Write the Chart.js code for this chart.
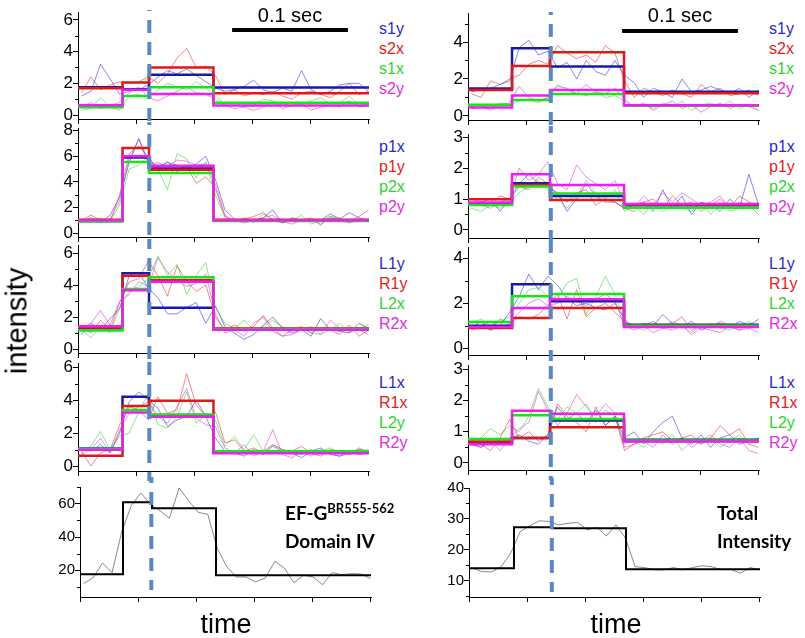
<!DOCTYPE html>
<html>
<head>
<meta charset="utf-8">
<script src="https://cdn.jsdelivr.net/npm/chart.js@4.4.0/dist/chart.umd.min.js"></script>
<style>
  body { margin: 0; background: #fff; }
  #wrap { position: relative; width: 805px; height: 638px; overflow: hidden; font-family: "Liberation Sans", Arial, sans-serif; }
  canvas { position: absolute; }
  .lab { position: absolute; white-space: nowrap; line-height: 1; }
  .note { font-family: Lato, "Open Sans", sans-serif; font-weight: bold; font-size: 19px; color: #000; }
</style>
</head>
<body>
<div id="wrap"></div>
<script>
// frame index of every sample (x axis has no labels, only "time")
const frames = Array.from({ length: 31 }, (_, i) => i);

// frames where the fitted steps change level
const leftEdges = [4.3, 7.07, 13.8];
const leftEdges5 = [4.14, 7.17, 13.86];
const rightEdges = [4.25, 8.22, 15.95];
const rightEdges5 = [4.35, 8.32, 16.05];
const leftMark = 7.1;
const rightMark = 8.3;
const scaleBarStart = 15.75;
const scaleBarFrames = 12.1; // = 0.1 sec

// ---- left column ----
const L1_names = ["s1y", "s2x", "s1x", "s2y"];
const L1_s1y = [1.2, 1.5, 3.2, 2.3, 1.3, 1.5, 1.6, 1.9, 2.4, 2.8, 2.6, 2.9, 2.5, 2.1, 1.7, 1.5, 1.6, 1.8, 2.2, 1.6, 1.4, 1.7, 1.5, 2.8, 1.6, 1.3, 1.5, 1.9, 2.0, 2.0, 1.5];
const L1_s2x = [1.4, 2.4, 1.6, 1.9, 2.1, 2.0, 2.1, 2.4, 2.0, 2.6, 3.6, 4.2, 3.0, 3.1, 2.5, 1.3, 1.6, 1.2, 1.4, 1.3, 1.5, 1.2, 1.0, 1.4, 1.5, 1.3, 1.1, 1.5, 2.0, 1.3, 1.5];
const L1_s1x = [0.3, 0.4, 1.1, 0.5, 0.3, 1.2, 1.3, 1.0, 1.6, 2.0, 1.8, 1.6, 2.1, 1.7, 1.2, 0.7, 0.8, 0.5, 0.6, 1.0, 0.9, 0.6, 0.8, 0.7, 0.9, 1.1, 0.7, 0.8, 1.2, 0.6, 0.7];
const L1_s2y = [0.5, 0.8, 0.4, 0.6, 0.8, 1.4, 1.8, 1.1, 0.9, 1.2, 1.5, 1.8, 1.4, 1.3, 1.0, 0.6, 0.4, 0.5, 0.3, 0.5, 0.8, 0.4, 0.6, 0.7, 0.3, 0.5, 0.6, 0.5, 0.9, 0.5, 0.6];
const L1_fits = [[1.76, 1.63, 2.54, 1.73], [1.69, 2.05, 3.0, 1.38], [0.49, 1.2, 1.76, 0.78], [0.62, 1.59, 1.33, 0.6]];

const L2_names = ["p1x", "p1y", "p2x", "p2y"];
const L2_p1x = [0.9, 1.2, 0.8, 1.4, 2.8, 5.5, 7.4, 5.6, 5.2, 5.5, 5.3, 5.0, 5.4, 6.0, 4.2, 1.8, 1.1, 1.0, 0.9, 1.2, 1.8, 0.8, 1.1, 1.0, 0.9, 1.0, 1.5, 1.1, 1.6, 1.2, 1.0];
const L2_p1y = [1.0, 1.4, 1.0, 0.9, 3.0, 6.2, 6.8, 5.9, 5.0, 5.6, 4.8, 5.2, 3.9, 4.4, 3.5, 1.3, 0.9, 1.1, 1.3, 1.6, 1.0, 0.8, 1.2, 1.0, 1.1, 0.7, 1.2, 1.0, 0.9, 1.3, 1.8];
const L2_p2x = [0.8, 1.0, 1.2, 0.9, 2.2, 5.0, 5.3, 6.0, 4.9, 3.4, 6.2, 5.8, 4.3, 5.6, 3.0, 1.2, 0.9, 1.2, 0.8, 1.5, 1.1, 0.9, 1.0, 1.4, 0.7, 1.0, 1.3, 1.2, 0.8, 1.1, 0.9];
const L2_p2y = [1.1, 0.9, 1.0, 1.1, 2.5, 5.8, 7.3, 5.4, 5.5, 5.2, 5.7, 5.6, 5.3, 5.4, 3.8, 1.4, 1.0, 0.8, 1.0, 1.2, 1.4, 0.9, 0.7, 1.0, 1.2, 0.6, 1.3, 1.0, 0.8, 1.0, 0.9];
const L2_fits = [[0.95, 5.9, 5.05, 1.0], [1.05, 6.64, 4.94, 1.05], [0.9, 5.54, 4.7, 0.95], [1.0, 5.99, 5.25, 1.0]];

const L3_names = ["L1y", "R1y", "L2x", "R2x"];
const L3_L1y = [0.9, 1.6, 1.2, 1.9, 2.5, 4.6, 4.8, 3.8, 3.2, 2.2, 2.2, 2.6, 2.9, 1.6, 2.7, 1.4, 1.0, 0.6, 0.9, 1.5, 2.0, 1.3, 1.0, 1.2, 0.8, 1.9, 1.2, 1.1, 1.0, 1.6, 1.3];
const L3_R1y = [1.4, 1.0, 1.8, 1.2, 2.9, 4.2, 4.4, 5.5, 4.6, 3.3, 5.2, 4.2, 3.6, 4.0, 2.0, 1.2, 1.5, 1.1, 1.4, 2.1, 1.3, 0.8, 1.2, 1.4, 1.0, 1.3, 1.2, 0.9, 1.5, 0.8, 1.2];
const L3_L2x = [1.2, 0.7, 1.4, 1.0, 2.6, 3.6, 3.9, 4.4, 5.8, 4.6, 5.3, 3.4, 4.6, 5.4, 2.6, 1.6, 1.3, 1.8, 1.2, 1.4, 1.8, 1.4, 1.1, 1.3, 1.0, 0.9, 1.2, 1.6, 1.0, 1.3, 1.5];
const L3_R2x = [1.3, 1.6, 2.4, 1.5, 3.0, 3.4, 4.2, 3.9, 5.7, 4.8, 4.3, 3.9, 4.1, 4.7, 2.2, 1.0, 1.2, 0.8, 1.6, 2.0, 1.1, 0.8, 0.9, 1.2, 1.4, 0.9, 1.8, 1.3, 1.1, 1.2, 0.9];
const L3_fits = [[1.3, 4.73, 2.58, 1.25], [1.35, 4.58, 4.29, 1.28], [1.15, 3.75, 4.48, 1.25], [1.42, 3.67, 4.2, 1.2]];

const L4_names = ["L1x", "R1x", "L2y", "R2y"];
const L4_L1x = [1.1, 0.9, 1.3, 0.8, 2.0, 3.9, 4.5, 4.0, 3.5, 2.4, 2.8, 3.0, 4.0, 3.0, 1.7, 0.9, 0.8, 0.6, 1.0, 0.7, 1.2, 0.9, 0.8, 0.5, 0.9, 1.1, 0.7, 0.6, 0.8, 1.0, 0.9];
const L4_R1x = [0.9, 0.0, 0.8, 1.0, 2.5, 3.6, 3.4, 2.8, 4.2, 3.2, 3.4, 5.6, 3.7, 3.0, 3.3, 1.4, 1.6, 0.9, 1.1, 0.8, 1.3, 1.0, 0.9, 1.2, 0.8, 0.6, 1.0, 0.9, 0.7, 1.1, 0.8];
const L4_L2y = [0.8, 1.2, 2.1, 1.0, 1.8, 2.0, 3.3, 4.4, 2.5, 2.3, 3.0, 4.5, 2.6, 3.1, 2.8, 1.2, 1.8, 1.0, 1.9, 0.9, 1.3, 1.0, 0.8, 0.7, 1.0, 0.9, 1.1, 0.8, 0.7, 0.9, 1.0];
const L4_R2y = [0.7, 1.0, 1.7, 0.8, 2.2, 3.2, 3.6, 3.9, 3.0, 2.6, 3.6, 4.7, 2.9, 2.5, 2.4, 1.1, 0.8, 1.3, 0.6, 0.9, 2.2, 0.7, 0.5, 0.9, 0.6, 1.0, 0.8, 0.6, 0.9, 0.7, 0.8];
const L4_fits = [[1.07, 4.2, 3.0, 0.8], [0.63, 3.64, 3.96, 0.85], [1.05, 3.4, 3.13, 0.9], [0.99, 3.25, 2.99, 0.77]];

const L5_sum = [12.0, 15.4, 24.4, 18.6, 42.9, 58.8, 66.4, 59.8, 55.8, 51.3, 69.4, 61.8, 54.8, 53.6, 33.0, 22.0, 16.0, 16.0, 13.0, 15.4, 25.4, 21.4, 12.6, 17.0, 16.0, 11.4, 18.6, 17.4, 18.0, 17.8, 15.0];
const L5_fit = [17.6, 60.8, 57.2, 17.0];

// ---- right column ----
const R1_s1y = [1.3, 1.4, 1.5, 1.7, 1.9, 3.7, 4.1, 3.3, 3.5, 2.6, 2.9, 2.0, 3.0, 2.4, 2.2, 3.0, 2.2, 1.8, 1.0, 1.5, 1.3, 1.0, 2.0, 1.3, 1.4, 1.6, 1.4, 1.2, 1.5, 1.0, 1.4];
const R1_s2x = [1.2, 1.0, 1.9, 1.7, 2.0, 2.2, 2.8, 3.0, 2.8, 3.8, 3.4, 3.1, 3.3, 2.9, 3.8, 3.4, 1.9, 1.0, 1.5, 1.3, 1.1, 1.4, 1.2, 1.0, 1.7, 1.3, 1.5, 1.1, 1.2, 1.4, 1.1];
const R1_s1x = [0.5, 0.6, 0.4, 0.7, 0.6, 0.8, 0.9, 0.7, 1.0, 1.7, 1.4, 1.2, 1.1, 1.3, 1.0, 1.1, 0.8, 0.5, 0.6, 0.4, 0.7, 0.5, 0.8, 0.3, 0.6, 0.7, 0.5, 0.8, 0.4, 0.6, 0.3];
const R1_s2y = [0.4, 0.5, 0.3, 0.6, 0.7, 1.6, 1.0, 0.8, 1.0, 1.6, 1.5, 1.2, 1.7, 1.3, 1.2, 1.5, 0.9, 0.5, 0.7, 0.3, 0.6, 0.8, 0.4, 0.6, 0.2, 0.5, 0.7, 0.4, 0.6, 0.5, 0.3];
const R1_fits = [[1.48, 3.66, 2.67, 1.31], [1.41, 2.7, 3.44, 1.23], [0.6, 0.86, 1.19, 0.55], [0.45, 1.1, 1.41, 0.58]];

const R2_p1x = [0.8, 0.9, 1.0, 0.6, 1.0, 1.5, 1.8, 1.5, 1.4, 1.2, 0.6, 1.0, 1.5, 1.1, 0.9, 0.9, 0.7, 0.8, 0.9, 0.6, 1.3, 0.7, 1.1, 0.5, 0.9, 0.8, 0.6, 1.0, 0.7, 1.8, 0.8];
const R2_p1y = [1.0, 0.9, 0.8, 1.1, 1.0, 1.4, 1.3, 1.7, 1.5, 1.1, 0.9, 1.2, 1.3, 0.8, 1.0, 0.9, 0.7, 0.6, 0.9, 1.0, 0.7, 1.1, 0.8, 0.9, 0.6, 0.8, 1.0, 0.7, 1.1, 0.9, 0.8];
const R2_p2x = [0.7, 0.6, 0.8, 0.7, 0.9, 1.2, 1.4, 1.6, 1.3, 1.0, 0.7, 1.1, 1.6, 1.2, 1.0, 1.3, 0.6, 0.8, 0.5, 0.9, 0.6, 0.8, 0.7, 0.6, 0.9, 0.5, 0.8, 0.6, 0.7, 0.9, 0.6];
const R2_p2y = [0.9, 0.8, 0.7, 0.9, 1.0, 2.0, 1.6, 1.8, 2.2, 1.5, 1.3, 2.1, 1.7, 1.5, 1.3, 1.6, 0.9, 0.7, 1.1, 0.8, 1.2, 0.9, 1.2, 1.0, 0.8, 0.9, 1.1, 0.7, 0.9, 0.8, 0.5];
const R2_fits = [[0.85, 1.51, 1.1, 0.8], [0.99, 1.45, 0.97, 0.82], [0.81, 1.4, 1.18, 0.72], [0.89, 1.8, 1.45, 0.84]];

const R3_L1y = [0.9, 1.2, 0.8, 1.0, 1.6, 2.3, 3.3, 2.6, 3.2, 2.8, 2.2, 1.9, 2.0, 1.8, 1.7, 2.0, 1.3, 0.9, 1.1, 1.0, 1.5, 1.1, 0.9, 1.2, 0.8, 1.0, 1.1, 0.9, 1.2, 1.0, 1.3];
const R3_R1y = [0.9, 1.0, 0.8, 1.3, 1.1, 1.4, 1.3, 1.5, 1.9, 2.4, 1.3, 2.6, 1.4, 1.8, 2.0, 1.6, 1.2, 0.9, 1.0, 1.2, 0.9, 1.1, 1.4, 0.8, 1.0, 0.9, 1.2, 1.0, 0.8, 1.1, 1.0];
const R3_L2x = [1.1, 1.3, 1.0, 1.2, 1.4, 2.0, 2.6, 2.7, 2.3, 2.2, 2.9, 3.1, 1.5, 2.3, 3.2, 2.4, 1.2, 1.0, 0.8, 1.1, 0.9, 1.2, 1.0, 0.7, 1.0, 1.1, 0.9, 0.8, 1.0, 1.2, 0.9];
const R3_R2x = [0.8, 1.0, 1.2, 0.9, 1.1, 1.6, 2.0, 2.2, 1.9, 2.0, 2.3, 2.1, 1.9, 2.2, 2.4, 2.1, 1.0, 0.8, 1.0, 0.7, 0.9, 0.8, 1.0, 0.6, 0.9, 0.8, 0.7, 1.0, 0.8, 0.9, 0.7];
const R3_fits = [[1.0, 2.84, 2.09, 1.05], [0.9, 1.35, 1.79, 1.0], [1.17, 2.31, 2.41, 1.0], [0.95, 1.79, 2.18, 0.95]];

const R4_L1x = [0.6, 0.5, 0.7, 0.6, 0.8, 0.9, 0.7, 0.6, 0.9, 1.8, 1.4, 1.6, 1.3, 1.7, 1.2, 1.5, 0.8, 1.0, 0.6, 1.0, 1.3, 1.5, 0.8, 0.6, 0.9, 0.5, 0.8, 0.9, 0.6, 0.7, 0.8];
const R4_R1x = [0.7, 0.6, 0.4, 0.8, 1.4, 0.8, 1.0, 0.7, 0.9, 1.9, 1.5, 1.3, 1.0, 1.8, 1.2, 1.5, 0.4, 0.6, 0.8, 0.9, 1.0, 0.7, 0.8, 0.9, 0.6, 0.8, 1.2, 0.9, 1.1, 0.6, 0.5];
const R4_L2y = [0.7, 0.8, 1.1, 0.9, 1.2, 1.0, 1.5, 2.4, 1.8, 1.4, 1.8, 1.6, 1.9, 1.3, 1.7, 1.5, 0.6, 0.7, 0.5, 0.8, 0.6, 0.9, 0.4, 0.7, 0.6, 0.8, 0.5, 0.7, 0.9, 0.6, 0.7];
const R4_R2y = [0.6, 0.5, 0.7, 0.4, 0.8, 1.1, 1.3, 2.3, 1.7, 1.2, 1.6, 2.2, 1.8, 1.5, 1.9, 1.6, 0.5, 0.6, 0.7, 0.5, 0.9, 0.6, 0.8, 0.5, 0.7, 0.9, 0.6, 0.5, 0.8, 0.4, 0.3];
const R4_fits = [[0.65, 0.8, 1.36, 0.74], [0.69, 0.8, 1.15, 0.7], [0.77, 1.53, 1.41, 0.72], [0.6, 1.68, 1.58, 0.69]];

const R5_sum = [14.1, 13.0, 12.9, 14.6, 18.9, 25.9, 27.8, 29.4, 29.2, 28.1, 28.6, 28.9, 26.5, 27.3, 24.5, 28.1, 23.8, 14.6, 14.3, 13.6, 13.6, 14.3, 13.6, 14.3, 14.9, 14.6, 13.6, 13.7, 12.5, 14.3, 13.6];
const R5_fit = [14.1, 27.3, 27.0, 13.8];

// colours: blue, red, green, magenta
const fitColors = ["#1a1aa8", "#e01818", "#18e418", "#f01cf0"];
const traceColors = ["rgba(70,70,225,0.8)", "rgba(228,70,70,0.8)", "rgba(70,220,70,0.8)", "rgba(228,70,228,0.8)"];
const textColors = ["#2a2ac4", "#e22222", "#2cd42c", "#e02ce0"];

const xMin = -0.35, xMax = 30.05;

const panels = [
  { area: [78, 12, 369, 119], y: [-0.25, 6.5], major: [0, 2, 4, 6], minor: [1, 3, 5], names: L1_names, traces: [L1_s1y, L1_s2x, L1_s1x, L1_s2y], fits: L1_fits, edges: leftEdges, mark: leftMark, dash: [2, 6], bar: true },
  { area: [78, 128, 369, 237], y: [-0.3, 8.2], major: [0, 2, 4, 6, 8], minor: [1, 3, 5, 7], names: L2_names, traces: [L2_p1x, L2_p1y, L2_p2x, L2_p2y], fits: L2_fits, edges: leftEdges, mark: leftMark, dash: [6, 6] },
  { area: [78, 245, 369, 353], y: [-0.25, 6.5], major: [0, 2, 4, 6], minor: [1, 3, 5], names: L3_names, traces: [L3_L1y, L3_R1y, L3_L2x, L3_R2x], fits: L3_fits, edges: leftEdges, mark: leftMark, dash: [6, 6] },
  { area: [78, 363, 369, 471], y: [-0.3, 6.25], major: [0, 2, 4, 6], minor: [1, 3, 5], names: L4_names, traces: [L4_L1x, L4_R1x, L4_L2y, L4_R2y], fits: L4_fits, edges: leftEdges, mark: leftMark, dash: [6, 10] },
  { area: [80, 487, 371, 597], y: [4, 70], major: [20, 40, 60], minor: [10, 30, 50, 70], sum: L5_sum, fit: L5_fit, edges: leftEdges5, mark: leftMark, dash: [10, -7], small: true },
  { area: [468, 13, 759, 120], y: [-0.22, 5.57], major: [0, 2, 4], minor: [1, 3, 5], names: L1_names, traces: [R1_s1y, R1_s2x, R1_s1x, R1_s2y], fits: R1_fits, edges: rightEdges, mark: rightMark, dash: [1, 6], bar: true },
  { area: [468, 134, 759, 238], y: [-0.26, 3.1], major: [0, 1, 2, 3], minor: [0.5, 1.5, 2.5], names: L2_names, traces: [R2_p1x, R2_p1y, R2_p2x, R2_p2y], fits: R2_fits, edges: rightEdges, mark: rightMark, dash: [8, 6] },
  { area: [468, 247, 759, 355], y: [-0.3, 4.5], major: [0, 2, 4], minor: [1, 3], names: L3_names, traces: [R3_L1y, R3_R1y, R3_L2x, R3_R2x], fits: R3_fits, edges: rightEdges, mark: rightMark, dash: [6, 6] },
  { area: [468, 365, 759, 470], y: [-0.23, 3.15], major: [0, 1, 2, 3], minor: [0.5, 1.5, 2.5], names: L4_names, traces: [R4_L1x, R4_R1x, R4_L2y, R4_R2y], fits: R4_fits, edges: rightEdges, mark: rightMark, dash: [6, 10] },
  { area: [469, 488, 760, 597], y: [4.8, 40], major: [10, 20, 30, 40], minor: [5, 15, 25, 35], sum: R5_sum, fit: R5_fit, edges: rightEdges5, mark: rightMark, dash: [10, -5], small: true },
];

const wrap = document.getElementById("wrap");

function stepPoints(levels, edges) {
  const xs = [xMin, ...edges, xMax];
  return xs.map((x, i) => ({ x: x, y: levels[Math.min(i, levels.length - 1)] }));
}

function tracePoints(values) {
  return values.map((v, i) => ({ x: frames[i], y: v }));
}

const extras = {
  id: "extras",
  afterDatasetsDraw(chart, args, opts) {
    const ctx = chart.ctx;
    const a = chart.chartArea;
    const xs = chart.scales.x;
    const ys = chart.scales.y;
    ctx.save();
    // minor ticks on the y axis
    ctx.strokeStyle = "#000";
    ctx.lineWidth = 1;
    opts.minor.forEach((v) => {
      const py = Math.round(ys.getPixelForValue(v)) + 0.5;
      ctx.beginPath();
      ctx.moveTo(a.left - 3, py);
      ctx.lineTo(a.left, py);
      ctx.stroke();
    });
    // scale bar
    if (opts.bar) {
      const x0 = xs.getPixelForValue(scaleBarStart);
      const x1 = xs.getPixelForValue(scaleBarStart + scaleBarFrames);
      ctx.fillStyle = "#000";
      ctx.fillRect(x0, a.top + 16, x1 - x0, 4);
    }
    // dashed marker line, phase tied to the page so it runs on between panels
    const px = xs.getPixelForValue(opts.mark);
    const y0 = a.top - opts.dash[0];
    const y1 = a.bottom + opts.dash[1];
    ctx.strokeStyle = "#5a88c4";
    ctx.lineWidth = 4;
    ctx.setLineDash([13, 9]);
    ctx.lineDashOffset = -(opts.pageTop + y0) % 22;
    ctx.beginPath();
    ctx.moveTo(px, y0);
    ctx.lineTo(px, y1);
    ctx.stroke();
    ctx.restore();
  },
};

panels.forEach((p) => {
  const [L, T, R, B] = p.area;
  const cv = document.createElement("canvas");
  cv.width = R - L + 68;
  cv.height = B - T + 24;
  cv.style.left = L - 60 + "px";
  cv.style.top = T - 12 + "px";
  wrap.appendChild(cv);

  const datasets = [];
  if (p.sum) {
    datasets.push({ data: tracePoints(p.sum), borderColor: "rgba(80,80,80,0.85)", borderWidth: 0.8, order: 10 });
    datasets.push({ data: stepPoints(p.fit, p.edges), borderColor: "#000", borderWidth: 2, stepped: true, order: 1 });
  } else {
    p.traces.forEach((t, k) => {
      datasets.push({ data: tracePoints(t), borderColor: traceColors[k], borderWidth: 0.8, order: 10 });
    });
    p.fits.forEach((f, k) => {
      datasets.push({ data: stepPoints(f, p.edges), borderColor: fitColors[k], borderWidth: 2.5, stepped: true, order: 4 - k });
    });
  }

  const xTicks = [0, 1, 2, 3, 4, 5].map((k) => xMin + (k * (xMax - xMin)) / 5);

  new Chart(cv, {
    type: "line",
    data: { datasets: datasets },
    options: {
      responsive: false,
      animation: false,
      events: [],
      elements: { point: { radius: 0 }, line: { tension: 0, fill: false } },
      layout: { padding: { left: 12, top: 12, right: 8, bottom: 6 } },
      plugins: {
        legend: { display: false },
        tooltip: { enabled: false },
        extras: { minor: p.minor, mark: p.mark, bar: !!p.bar, dash: p.dash, pageTop: T - 12 },
      },
      scales: {
        x: {
          type: "linear",
          min: xMin,
          max: xMax,
          border: { color: "#000", width: 1 },
          grid: { drawOnChartArea: false, color: "#000", tickLength: 5 },
          ticks: { display: false },
          afterBuildTicks: (s) => { s.ticks = xTicks.map((v) => ({ value: v })); },
          afterFit: (s) => { s.height = 6; s.paddingLeft = 0; s.paddingRight = 0; },
        },
        y: {
          min: p.y[0],
          max: p.y[1],
          border: { color: "#000", width: 1 },
          grid: { drawOnChartArea: false, color: "#000", tickLength: 5 },
          ticks: { color: "#000", padding: 0, font: { family: "'Liberation Sans', Arial", size: p.small ? 15 : 17 } },
          afterBuildTicks: (s) => { s.ticks = p.major.map((v) => ({ value: v })); },
          afterFit: (s) => { s.width = 48; s.paddingTop = 0; s.paddingBottom = 0; },
        },
      },
    },
    plugins: [extras],
  });
});

// text: legends, labels, annotations
function addText(html, css) {
  const d = document.createElement("div");
  d.className = "lab";
  d.innerHTML = html;
  Object.assign(d.style, css);
  wrap.appendChild(d);
  return d;
}

const legendTops = [30, 148, 265, 384];
const legendNames = [L1_names, L2_names, L3_names, L4_names];
[379, 769].forEach((lx) => {
  legendNames.forEach((names, g) => {
    names.forEach((n, k) => {
      addText(n, { left: lx + "px", top: legendTops[g] + k * 20 - 9 + "px", fontSize: "16px", color: textColors[k] });
    });
  });
});

addText("0.1 sec", { left: "290px", top: "5px", fontSize: "20px", transform: "translateX(-50%)" });
addText("0.1 sec", { left: "680px", top: "5px", fontSize: "20px", transform: "translateX(-50%)" });

addText('EF-G<sup style="font-size:13px;vertical-align:7px">BR555-562</sup>', { left: "285px", top: "502px" }).classList.add("note");
addText("Domain IV", { left: "285px", top: "531px" }).classList.add("note");
addText("Total", { left: "717px", top: "503px" }).classList.add("note");
addText("Intensity", { left: "717px", top: "531px" }).classList.add("note");

addText("time", { left: "226px", top: "611px", fontSize: "27px", transform: "translateX(-50%)" });
addText("time", { left: "616px", top: "611px", fontSize: "27px", transform: "translateX(-50%)" });
addText("intensity", { left: "17px", top: "321px", fontSize: "29px", transform: "translate(-50%,-50%) rotate(-90deg)" });
</script>
</body>
</html>
